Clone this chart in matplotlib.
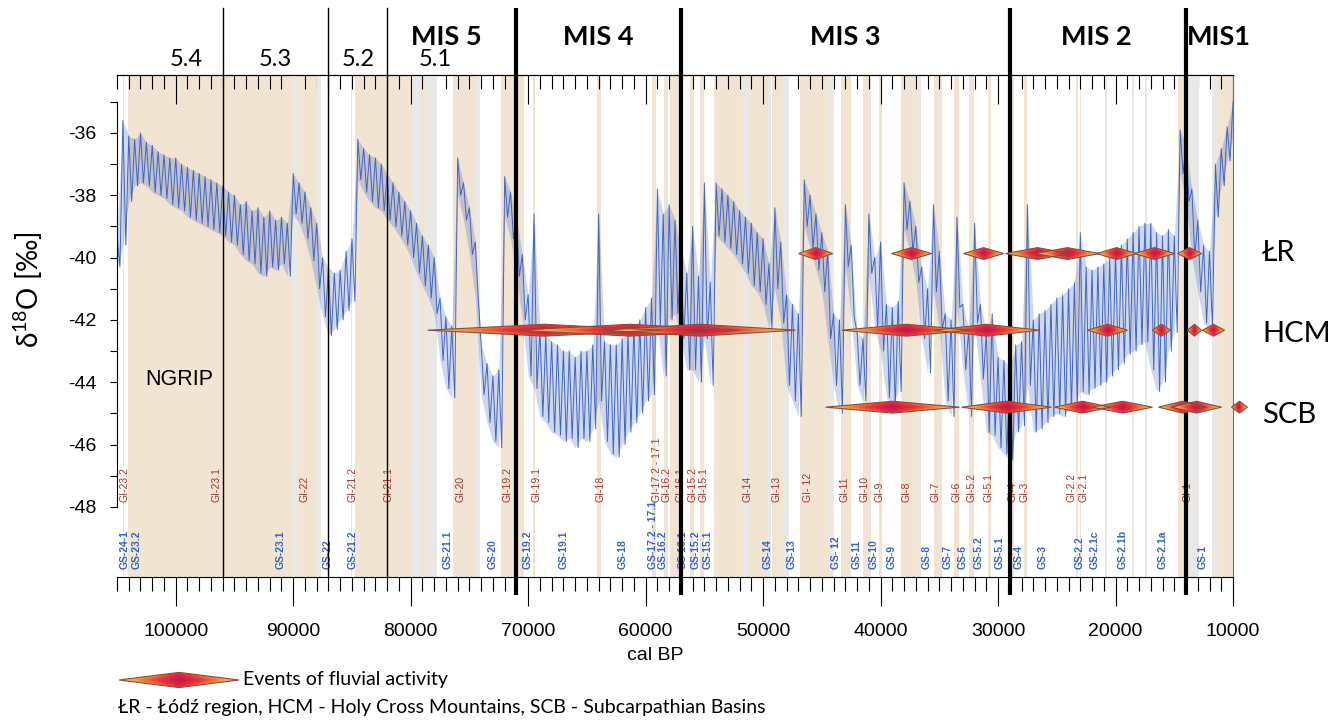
"""NGRIP d18O record with GI/GS shading, MIS boundaries and fluvial activity events."""
import numpy as np
import matplotlib
matplotlib.use("Agg")
import matplotlib.pyplot as plt
import matplotlib.transforms as mtransforms
from matplotlib.colors import LinearSegmentedColormap
from matplotlib.patches import Polygon
from matplotlib.ticker import FixedLocator, FormatStrFormatter, MultipleLocator

plt.rcParams["axes.unicode_minus"] = False
plt.rcParams["mathtext.fontset"] = "custom"
plt.rcParams["mathtext.rm"] = "Lato"

W, H = 1343, 722
CAL = "Lato"  # stands in for Calibri
ARIAL = "Liberation Sans"
NARROW = ["Liberation Sans Narrow", "Liberation Sans"]
CURVE = "#3b60bb"
TAN, GREY = "#f1e4d3", "#e8e8e6"
GI_COL, GS_COL = "#9a3a30", "#3563c8"
EDGE = "#8c4a3c"

# NGRIP d18O, upper / lower envelope read every 0.5 ka, 105 -> 10 ka b2k
AGE_KA = np.arange(105.0, 9.99, -0.5)
UPPER = [
    -39.3, -35.6, -36.1, -36.2, -36.0, -36.3, -36.4, -36.6, -36.7, -36.8,   # 105.0-100.5
    -36.8, -37.0, -37.1, -37.2, -37.3, -37.4, -37.5, -37.6, -37.7, -37.9,   # 100.0-95.5
    -38.0, -38.3, -38.2, -38.5, -38.4, -38.7, -38.5, -38.8, -38.7, -38.9,   # 95.0-90.5
    -37.3, -37.6, -37.9, -38.4, -38.9, -40.0, -40.3, -40.5, -40.4, -39.8,   # 90.0-85.5
    -39.4, -36.2, -36.5, -36.7, -36.8, -37.0, -37.3, -37.6, -37.9, -38.2,   # 85.0-80.5
    -38.5, -38.9, -39.3, -39.6, -40.0, -41.3, -41.9, -42.2, -36.8, -37.6,   # 80.0-75.5
    -38.4, -39.5, -42.8, -43.4, -43.8, -43.6, -37.4, -37.9, -38.7, -39.9,   # 75.0-70.5
    -41.2, -38.6, -42.3, -42.5, -42.7, -42.8, -43.0, -43.0, -43.2, -43.0,   # 70.0-65.5
    -43.0, -42.8, -38.6, -42.7, -42.8, -42.8, -42.6, -42.4, -42.2, -42.0,   # 65.0-60.5
    -41.6, -41.3, -37.8, -38.6, -38.3, -38.8, -39.7, -40.5, -39.0, -40.6,   # 60.0-55.5
    -37.6, -40.8, -37.6, -37.8, -38.0, -38.2, -38.5, -38.7, -38.9, -39.2,   # 55.0-50.5
    -39.4, -40.2, -38.4, -39.5, -41.2, -41.5, -41.8, -37.5, -38.0, -38.6,   # 50.0-45.5
    -39.2, -39.8, -41.8, -42.0, -38.3, -39.6, -42.4, -42.6, -38.6, -40.0,   # 45.0-40.5
    -39.5, -41.5, -41.6, -41.4, -37.6, -38.2, -39.0, -40.3, -41.0, -38.3,   # 40.0-35.5
    -39.8, -41.8, -42.0, -38.7, -41.5, -42.3, -38.9, -41.5, -42.4, -41.8,   # 35.0-30.5
    -43.2, -43.3, -43.5, -42.8, -42.7, -38.3, -42.0, -41.8, -41.7, -41.5,   # 30.0-25.5
    -41.3, -41.2, -41.0, -40.8, -39.2, -40.3, -40.4, -40.3, -40.2, -40.0,   # 25.0-20.5
    -39.8, -39.6, -39.4, -39.2, -39.0, -38.9, -38.9, -39.2, -39.3, -39.1,   # 20.0-15.5
    -39.3, -35.9, -36.4, -37.8, -38.8, -39.6, -39.8, -37.0, -36.5, -35.8,   # 15.0-10.5
    -35.0,                                                                  # 10.0
]
LOWER = [
    -40.3, -39.6, -38.2, -37.7, -37.6, -37.7, -37.9, -38.0, -38.1, -38.3,
    -38.4, -38.5, -38.7, -38.8, -38.9, -39.0, -39.1, -39.2, -39.3, -39.5,
    -39.6, -39.9, -40.1, -40.2, -40.5, -40.6, -40.3, -40.4, -40.2, -40.6,
    -38.6, -38.9, -39.4, -40.1, -41.0, -41.9, -42.5, -42.3, -42.0, -41.7,
    -41.4, -37.5, -37.9, -38.2, -38.4, -38.5, -38.8, -39.0, -39.3, -39.6,
    -40.0, -40.5, -40.9, -41.3, -41.8, -43.3, -44.2, -44.5, -38.0, -38.8,
    -39.9, -41.3, -44.4, -45.3, -45.9, -46.1, -38.7, -39.4, -40.6, -42.0,
    -43.8, -44.2, -45.1, -45.3, -45.6, -45.7, -45.9, -45.8, -46.1, -45.8,
    -45.9, -45.5, -44.6, -45.9, -46.3, -46.4, -46.0, -45.6, -45.3, -45.0,
    -44.6, -44.4, -42.2, -43.8, -42.0, -41.8, -42.6, -43.6, -43.6, -44.0,
    -42.6, -44.1, -39.3, -39.5, -39.7, -39.9, -40.2, -40.5, -40.9, -41.1,
    -41.5, -42.3, -41.0, -42.1, -44.1, -44.6, -45.1, -39.0, -39.7, -40.4,
    -41.1, -42.6, -44.1, -45.0, -40.3, -41.9, -44.1, -44.6, -40.5, -42.3,
    -43.0, -44.5, -44.8, -44.3, -39.1, -39.8, -40.8, -42.6, -43.7, -41.1,
    -42.3, -44.6, -45.1, -41.6, -43.6, -45.1, -42.1, -43.9, -45.6, -45.7,
    -46.1, -46.3, -46.5, -45.6, -45.4, -44.1, -45.6, -45.5, -45.3, -45.1,
    -45.0, -45.1, -44.9, -44.7, -44.3, -44.4, -44.2, -44.1, -44.0, -43.8,
    -43.6, -43.4, -43.1, -43.0, -42.8, -42.7, -43.6, -44.3, -44.0, -43.0,
    -42.4, -37.3, -38.2, -40.0, -41.1, -42.1, -42.3, -38.7, -37.7, -36.9,
    -36.1,
]

# Greenland interstadials (tan) and short sub-events (grey), ka b2k
TAN_OLD = [104.52, 104.04, 89.70, 85.06, 84.76, 79.30, 76.44, 72.34, 69.62, 64.10,
           59.44, 58.40, 57.90, 56.20, 55.40, 54.22, 51.20, 49.28, 46.86, 43.34,
           41.46, 40.16, 38.22, 35.48, 33.74, 32.50, 30.84, 28.90, 27.78, 23.34,
           23.02, 14.69, 11.30]
TAN_YOUNG = [104.38, 90.04, 88.00, 84.96, 79.90, 78.80, 74.40, 70.38, 69.40, 63.84,
             59.10, 58.10, 56.90, 55.90, 55.00, 51.70, 49.60, 48.34, 44.28, 42.50,
             40.80, 39.90, 36.58, 34.74, 33.36, 32.04, 30.60, 28.60, 27.54, 23.22,
             22.90, 13.90, 10.00]
GREY_OLD = [90.10, 88.00, 79.90, 78.80, 74.40, 51.70, 49.60, 48.34, 44.28, 36.90,
            20.90, 18.60, 17.48, 13.90, 11.75]
GREY_YOUNG = [89.70, 87.60, 79.30, 77.76, 74.10, 51.20, 49.30, 47.80, 44.00, 36.70,
              20.70, 18.40, 17.30, 12.90, 11.30]

MIS_BOUNDS = [71.0, 57.0, 29.0, 14.0]
SUB_BOUNDS = [96.0, 87.0, 82.0]
MIS_NAMES = ["MIS 5", "MIS 4", "MIS 3", "MIS 2", "MIS1"]
MIS_LABEL_KA = [77.0, 64.0, 43.0, 21.6, 11.2]
SUB_NAMES = ["5.4", "5.3", "5.2", "5.1"]
SUB_LABEL_KA = [99.1, 91.5, 84.5, 77.9]

GI_NAMES = ["GI-23.2", "GI-23.1", "GI-22", "GI-21.2", "GI-21.1", "GI-20", "GI-19.2",
            "GI-19.1", "GI-18", "GI-17.2 - 17.1", "GI-16.2", "GI-16.1", "GI-15.2",
            "GI-15.1", "GI-14", "GI-13", "GI- 12", "GI-11", "GI-10", "GI-9", "GI-8",
            "GI-7", "GI-6", "GI-5.2", "GI-5.1", "GI-4", "GI-3", "GI-2.2", "GI-2.1", "GI-1"]
GI_KA = [104.34, 96.51, 89.02, 84.94, 81.87, 75.74, 71.74, 69.28, 63.83, 59.06,
         58.21, 57.02, 56.00, 55.06, 51.32, 48.85, 46.21, 43.06, 41.36, 40.09,
         37.79, 35.32, 33.53, 32.26, 30.81, 28.77, 27.74, 23.74, 22.72, 13.87]
GS_NAMES = ["GS-24-1", "GS-23.2", "GS-23.1", "GS-22", "GS-21.2", "GS-21.1", "GS-20",
            "GS-19.2", "GS-19.1", "GS-18", "GS-17.2 - 17.1", "GS-16.2", "GS-16.1",
            "GS-15.2", "GS-15.1", "GS-14", "GS-13", "GS- 12", "GS-11", "GS-10", "GS-9",
            "GS-8", "GS-7", "GS-6", "GS-5.2", "GS-5.1", "GS-4", "GS-3", "GS-2.2",
            "GS-2.1c", "GS-2.1b", "GS-2.1a", "GS-1"]
GS_KA = [104.34, 103.32, 91.06, 87.06, 84.94, 76.85, 73.02, 70.04, 66.98, 61.96,
         59.40, 58.55, 56.85, 55.74, 54.72, 49.62, 47.57, 43.83, 42.04, 40.60,
         39.06, 36.09, 34.30, 33.02, 31.66, 29.87, 28.26, 26.21, 23.06, 21.79,
         19.40, 16.00, 12.60]

# events of fluvial activity: centre and half-length, ka
REGIONS = ["ŁR", "HCM", "SCB"]
ROW_Y = [-39.87, -42.33, -44.80]
LABEL_Y = [-39.85, -42.45, -45.05]
LR_C = [45.53, 37.36, 31.23, 26.64, 24.09, 19.91, 16.68, 13.70]
LR_HW = [1.45, 1.70, 1.70, 2.72, 2.72, 1.70, 1.70, 1.02]
HCM_C = [68.60, 61.36, 55.40, 37.79, 30.98, 20.68, 16.09, 13.28, 11.66]
HCM_HW = [9.96, 9.36, 8.17, 5.50, 4.50, 1.70, 0.77, 0.60, 0.94]
SCB_C = [38.98, 29.28, 22.81, 19.40, 14.30, 13.11, 9.45]
SCB_HW = [5.70, 3.83, 2.38, 2.55, 2.04, 2.13, 0.68]
EVENTS = [(LR_C, LR_HW), (HCM_C, HCM_HW), (SCB_C, SCB_HW)]

FLUV = LinearSegmentedColormap.from_list(
    "fluv", ["#bf1650", "#d92140", "#e83c38", "#f0763c", "#f6aa4c", "#fbd872"])
GX, GY = np.meshgrid(np.linspace(-1, 1, 201), np.linspace(-1, 1, 31))
SHADE = np.clip(np.abs(GX) + 0.35 * np.abs(GY), 0, 1)


def diamond(ax, cx, hw, cy, hh, fig):
    poly = Polygon([(cx - hw, cy), (cx, cy + hh), (cx + hw, cy), (cx, cy - hh)], closed=True,
                   fc="none", ec=EDGE, lw=0.8, zorder=6, clip_on=False)
    ax.add_patch(poly)
    im = ax.imshow(SHADE, cmap=FLUV, vmin=0, vmax=1, extent=(cx - hw, cx + hw, cy - hh, cy + hh),
                   aspect="auto", interpolation="bilinear", zorder=5)
    im.set_clip_box(fig.bbox)
    im.set_clip_path(poly)


def fpos(x, y):
    return x / W, 1 - y / H


fig = plt.figure(figsize=(W / 100, H / 100), dpi=100)
ax = fig.add_axes([117 / W, 1 - 577 / H, 1116 / W, 502 / H])

for a, b in zip(TAN_OLD, TAN_YOUNG):
    ax.axvspan(a * 1000, b * 1000, color=TAN, lw=0, zorder=0)
for a, b in zip(GREY_OLD, GREY_YOUNG):
    ax.axvspan(a * 1000, b * 1000, color=GREY, lw=0, zorder=0.5)

age = AGE_KA * 1000
ax.fill_between(age, UPPER, LOWER, color=CURVE, alpha=0.25, lw=0, zorder=1.8)
xs = np.column_stack([age, age - 250]).ravel()
ys = np.column_stack([UPPER, LOWER]).ravel()
ax.plot(xs, ys, color=CURVE, lw=0.7, alpha=0.95, zorder=2)

tr = ax.get_xaxis_transform()
top = (577 - 8) / 502
for b in MIS_BOUNDS:
    ax.plot([b * 1000] * 2, [-0.035, top], transform=tr, color="k", lw=3, clip_on=False,
            zorder=4, solid_capstyle="butt")
for b in SUB_BOUNDS:
    ax.plot([b * 1000] * 2, [0, top], transform=tr, color="k", lw=1, clip_on=False, zorder=4)
for name, ka in zip(MIS_NAMES, MIS_LABEL_KA):
    ax.text(ka * 1000, (577 - 37) / 502, name, transform=tr, ha="center", va="center",
            family=CAL, fontsize=19.5, fontweight="bold")
for name, ka in zip(SUB_NAMES, SUB_LABEL_KA):
    ax.text(ka * 1000, (577 - 60) / 502, name, transform=tr, ha="center", va="center",
            family=CAL, fontsize=17)

for name, ka in zip(GI_NAMES, GI_KA):
    ax.text(ka * 1000, -47.84, name, rotation=90, ha="center", va="bottom", color=GI_COL,
            family=ARIAL, fontsize=7.5, zorder=3)
for name, ka in zip(GS_NAMES, GS_KA):
    ax.text(ka * 1000, -49.99, name, rotation=90, ha="center", va="bottom", color=GS_COL,
            family=ARIAL, fontsize=7.5, fontweight="bold", zorder=3)

for (cs, hws), y in zip(EVENTS, ROW_Y):
    for c, hw in zip(cs, hws):
        diamond(ax, c * 1000, hw * 1000, y, 0.19, fig)

rtr = mtransforms.blended_transform_factory(ax.transAxes, ax.transData)
for name, y in zip(REGIONS, LABEL_Y):
    ax.text(1.026, y, name, transform=rtr, ha="left", va="center", family=CAL, fontsize=21)

ax.text(99660, -43.92, "NGRIP", ha="center", va="center", family=ARIAL, fontsize=15.5)

ax.set_xlim(105000, 10000)
ax.set_ylim(-50.25, -34.14)

ax.spines["left"].set_bounds(-48, -35)
ax.spines["right"].set_color("#707070")
ax.yaxis.set_major_locator(FixedLocator(np.arange(-48, -35, 2)))
ax.yaxis.set_minor_locator(FixedLocator(np.arange(-47, -34, 2)))
ax.yaxis.set_major_formatter(FormatStrFormatter("%d"))
ax.tick_params(axis="y", which="both", direction="out", length=5, width=0.8, pad=10)
ax.xaxis.set_major_locator(MultipleLocator(10000))
ax.xaxis.set_minor_locator(MultipleLocator(1000))
ax.xaxis.set_major_formatter(FormatStrFormatter("%d"))
ax.tick_params(axis="x", which="both", top=False, direction="out", width=0.8)
ax.tick_params(axis="x", which="major", length=21, pad=12)
ax.tick_params(axis="x", which="minor", length=10)
for lab in ax.get_xticklabels() + ax.get_yticklabels():
    lab.set_family(NARROW)
    lab.set_fontsize(14)

sec = ax.secondary_xaxis("top")
sec.xaxis.set_major_locator(MultipleLocator(10000))
sec.xaxis.set_minor_locator(MultipleLocator(1000))
sec.tick_params(which="both", direction="in", labeltop=False, width=0.8)
sec.tick_params(which="major", length=21)
sec.tick_params(which="minor", length=10)

fig.text(*fpos(28, 290), r"δ$^{18}$O [‰]", rotation=90, ha="center", va="center",
         family=CAL, fontsize=20)
fig.text(*fpos(655, 655), "cal BP", ha="center", va="center", family=NARROW, fontsize=14)

lax = fig.add_axes([119 / W, 1 - 688 / H, 120 / W, 16 / H])
lax.set_xlim(-1, 1)
lax.set_ylim(-1, 1)
lax.axis("off")
diamond(lax, 0, 1, 0, 0.95, fig)
fig.text(*fpos(243, 680), "Events of fluvial activity", ha="left", va="center",
         family=CAL, fontsize=14)
fig.text(*fpos(118, 708), "ŁR - Łódź region, HCM - Holy Cross Mountains, SCB - Subcarpathian Basins",
         ha="left", va="center", family=CAL, fontsize=14)

fig.savefig("out.png", dpi=100, facecolor="white")
